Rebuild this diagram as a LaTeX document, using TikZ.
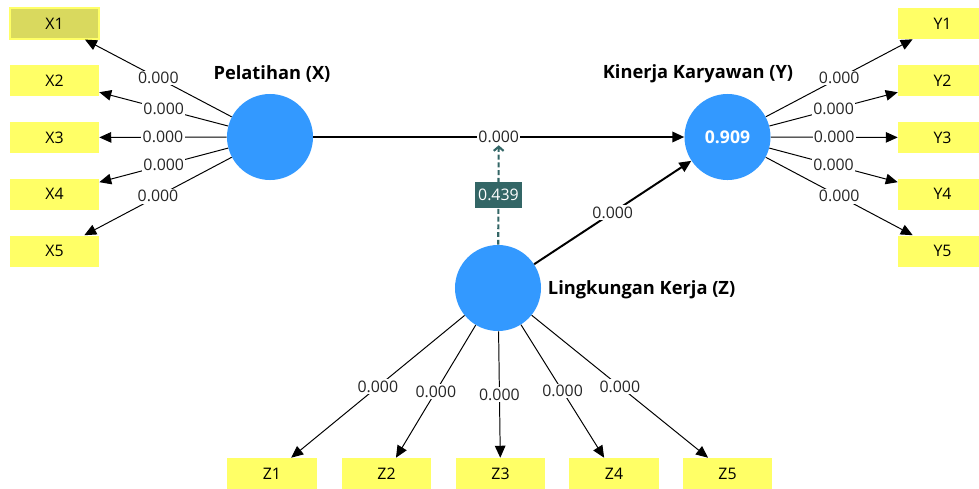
\documentclass[tikz,border=0pt]{standalone}
\usepackage{fontspec}
\setmainfont{Open Sans}
\usetikzlibrary{arrows.meta}
\definecolor{plsblue}{RGB}{51,153,255}
\definecolor{plsyellow}{RGB}{255,255,102}
\definecolor{plsolive}{RGB}{217,217,94}
\definecolor{plsteal}{RGB}{51,102,102}

\begin{document}
\begin{tikzpicture}[x=0.025cm,y=-0.025cm,>={Triangle[length=8.5pt,width=7.5pt]},
  font=\fontsize{11.3}{13}\selectfont]
  \tikzstyle{latent}=[circle,fill=plsblue,minimum size=2.15cm,inner sep=0pt]
  \tikzstyle{indicator}=[rectangle,fill=plsyellow,minimum width=2.225cm,
  			 minimum height=0.775cm,inner sep=0pt]
  \tikzstyle{selected}=[fill=plsolive,draw=plsyellow,line width=0.8pt]
  \tikzstyle{weight}=[fill=white,inner sep=1pt,text=black!85]
  \tikzstyle{loading}=[->,line width=0.7pt]
  \tikzstyle{inner path}=[->,line width=1.4pt]
  \tikzstyle{moderation}=[-{Straight Barb[length=3pt,width=7pt]},plsteal,
  			  line width=1.5pt,dash pattern=on 3.5pt off 2pt]
  \tikzstyle{modlabel}=[fill=plsteal,text=white,inner sep=2pt,
  			minimum height=0.65cm]
  \tikzstyle{caption}=[font=\fontsize{13}{15}\selectfont\bfseries]

  \useasboundingbox (0,0) rectangle (979,488);
  \clip (0,0) rectangle (979,488);

  % latent variables
  \node [latent] (PX) at (270,137) {};
  \node [latent,text=white,font=\fontsize{12.5}{14}\selectfont\bfseries] (PY) at (727.5,137) {0.909};
  \node [latent] (PZ) at (498,288) {};
  \node [caption] (lblX) at (272,74) {Pelatihan (X)};
  \node [caption] (lblY) at (698,74) {Kinerja Karyawan (Y)};
  \node [caption,anchor=west] (lblZ) at (543,290) {Lingkungan Kerja (Z)};

  % indicators
  \node [indicator,selected] (X1) at (54.5,23.5) {X1};
  \foreach \i/\y in {2/80.5,3/137.5,4/194,5/251}
    \node [indicator] (X\i) at (54.5,\y) {X\i};
  \foreach \i/\y in {1/23.5,2/80.5,3/137.5,4/194,5/251}
    \node [indicator] (Y\i) at (942.5,\y) {Y\i};
  \foreach \i/\x in {1/272,2/386.5,3/500.5,4/614,5/727.5}
    \node [indicator] (Z\i) at (\x,473.5) {Z\i};

  % outer loadings
  \foreach \i in {1,...,5} {
    \draw [loading] (PX) -- node[weight] {0.000} (X\i);
    \draw [loading] (PY) -- node[weight] {0.000} (Y\i);
    \draw [loading] (PZ) -- node[weight] {0.000} (Z\i);
  }

  % inner model
  \draw [inner path] (PX) -- node[weight] (mXY) {0.000} (PY);
  \draw [inner path] (PZ) -- node[weight] {0.000} (PY);
  \draw [moderation] (PZ) -- node[modlabel] {0.439} (mXY);
\end{tikzpicture}
\end{document}
